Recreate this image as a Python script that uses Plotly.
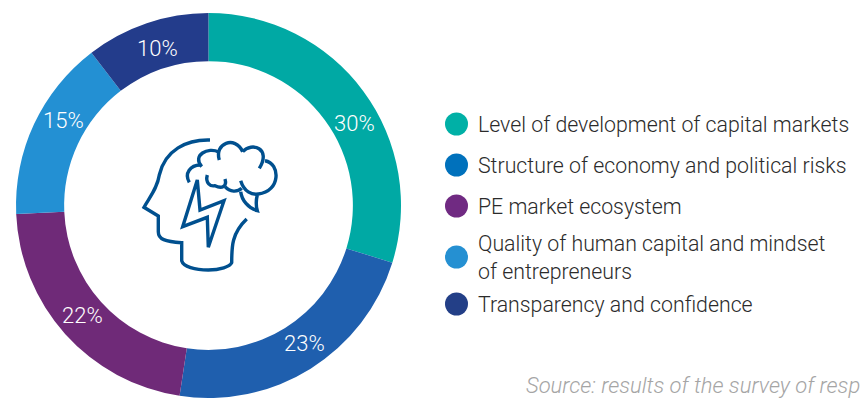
import plotly.graph_objects as go

W, H = 863, 398
categories = ["Level of development of capital markets", "Structure of economy and political risks",
              "PE market ecosystem", "Quality of human capital and mindset<br>of entrepreneurs",
              "Transparency and confidence"]
values = [30, 23, 22, 15, 10]                 # printed labels
arc_shares = [29.8, 22.6, 21.9, 15.3, 10.4]   # arc sizes as drawn in the picture
slice_colors = ["#00A9A4", "#1F5FAE", "#6F2A78", "#2390D3", "#233C8B"]
legend_colors = ["#00B0A6", "#0071BC", "#702A82", "#2590D2", "#233F87"]
legend_y = [124, 165, 206, 257, 304]
label_x = [354, 304, 82, 63, 157]
label_y = [123, 343, 315, 120, 48]
source = "Source: results of the survey of resp"
FONT = "Roboto"
ICON = "#00508F"

fig = go.Figure()
fig.add_trace(go.Pie(
    values=arc_shares, labels=categories, sort=False, direction="clockwise", rotation=0, hole=0.75,
    marker=dict(colors=slice_colors, line=dict(width=0)),
    textinfo="none",
    domain=dict(x=[16 / W, 401 / W], y=[0, 385 / H]), showlegend=False))
fig.add_trace(go.Scatter(x=[], y=[], showlegend=False))


def P(s):
    out = []
    toks = s.split()
    for t in toks:
        if "," in t:
            a, b = t.split(",")
            out.append(f"{120 + float(a) / 3:.1f},{120 + float(b) / 3:.1f}")
        else:
            out.append(t)
    return " ".join(out)


icon_paths = [
    "M 270,60 C 200,58 135,90 118,165 C 112,205 90,230 72,262 L 115,288 L 115,335 C 115,358 135,365 185,368 L 185,422 C 190,440 225,450 265,450 C 300,450 330,440 335,428 C 335,380 335,340 380,297",
    "M 208,187 C 192,160 212,135 240,135",
    "M 245,140 C 215,105 265,80 296,96",
    "M 298,120 C 282,70 345,45 368,95",
    "M 368,95 C 395,65 455,85 418,145",
    "M 435,122 C 482,130 482,215 415,222 C 395,225 372,215 362,182",
    "M 412,225 C 408,240 408,258 412,272 C 385,265 365,240 362,215",
    "M 262,165 C 255,190 272,200 285,197 C 305,207 322,200 315,177",
    "M 315,200 C 330,217 352,217 365,205",
    "M 232,180 L 188,320 L 262,292 L 265,382 L 312,242 L 240,270 Z",
]
shapes = [dict(type="path", xref="x", yref="y", path=P(p), line=dict(color=ICON, width=3.4), fillcolor="rgba(0,0,0,0)")
          for p in icon_paths]
for c, y in zip(legend_colors, legend_y):
    shapes.append(dict(type="circle", xref="x", yref="y", x0=445, x1=468, y0=y - 11.5, y1=y + 11.5,
                       fillcolor=c, line=dict(width=0)))
anns = []
for v, x, y in zip(values, label_x, label_y):
    anns.append(dict(x=x, y=y, xref="x", yref="y", text=f"{v}%", showarrow=False, xanchor="center", yanchor="middle",
                     font=dict(family=FONT, size=22, color="white", weight=300)))
for t, y in zip(categories, legend_y):
    anns.append(dict(x=478, y=y, xref="x", yref="y", text=t, showarrow=False, xanchor="left", yanchor="middle",
                     align="left", xshift=-2, font=dict(family=FONT, size=21.3, color="#2b2b2b", weight=300)))
anns.append(dict(x=527, y=385, xref="x", yref="y", text=f"<i>{source}</i>", showarrow=False, xanchor="left",
                 yanchor="middle", xshift=-3, font=dict(family=FONT, size=22, color="#A5A5A5", weight=300)))

fig.update_layout(
    width=W, height=H, margin=dict(l=0, r=0, t=0, b=0), paper_bgcolor="white", plot_bgcolor="rgba(0,0,0,0)",
    xaxis=dict(range=[0, W], visible=False, fixedrange=True),
    yaxis=dict(range=[H, 0], visible=False, fixedrange=True),
    shapes=shapes, annotations=anns)
fig.write_html("out.html", config=dict(displayModeBar=False),
               post_script="document.body.style.margin='0';document.body.style.overflow='hidden';")
